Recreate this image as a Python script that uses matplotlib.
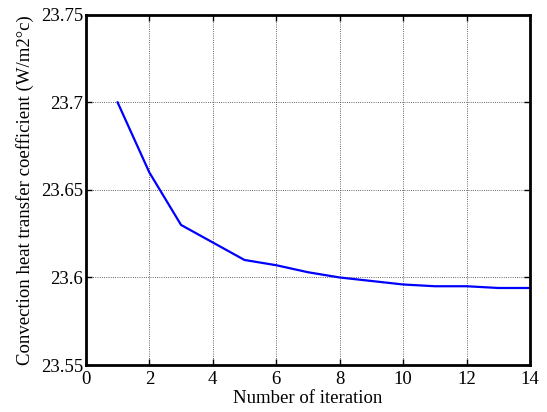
import matplotlib
matplotlib.use("Agg")
import matplotlib.pyplot as plt

# values
iterations = [1, 2, 3, 4, 5, 6, 7, 8, 9, 10, 11, 12, 13, 14]
h_conv = [23.700, 23.660, 23.630, 23.620, 23.610, 23.607, 23.603,
          23.600, 23.598, 23.596, 23.595, 23.595, 23.594, 23.594]
xticks = [0, 2, 4, 6, 8, 10, 12, 14]
yticks = [23.55, 23.6, 23.65, 23.7, 23.75]
ytick_labels = ['23.55', '23.6', '23.65', '23.7', '23.75']

plt.rcParams['font.family'] = ['Liberation Serif', 'DejaVu Serif']

fig = plt.figure(figsize=(5.47, 4.12), dpi=100)
ax = fig.add_axes([0.157, 0.114, 0.812, 0.850])

ax.plot(iterations, h_conv, color='blue', linewidth=1.6)

ax.set_xlim(0, 14)
ax.set_ylim(23.55, 23.75)
ax.set_xticks(xticks)
ax.set_yticks(yticks)
ax.set_yticklabels(ytick_labels)
ax.grid(True, color='black', linestyle=':', linewidth=0.6, alpha=0.8)
ax.tick_params(direction='in', top=True, right=True, labelsize=13.5, length=4, width=1, pad=2)
ax.tick_params(axis='x', pad=4)
for sp in ax.spines.values():
    sp.set_linewidth(2)

ax.set_xlabel('Number of iteration', fontsize=13.5, labelpad=2)
ax.set_ylabel('Convection heat transfer coefficient (W/m2°c)', fontsize=13.5, labelpad=5)

fig.savefig('out.png', dpi=100)
